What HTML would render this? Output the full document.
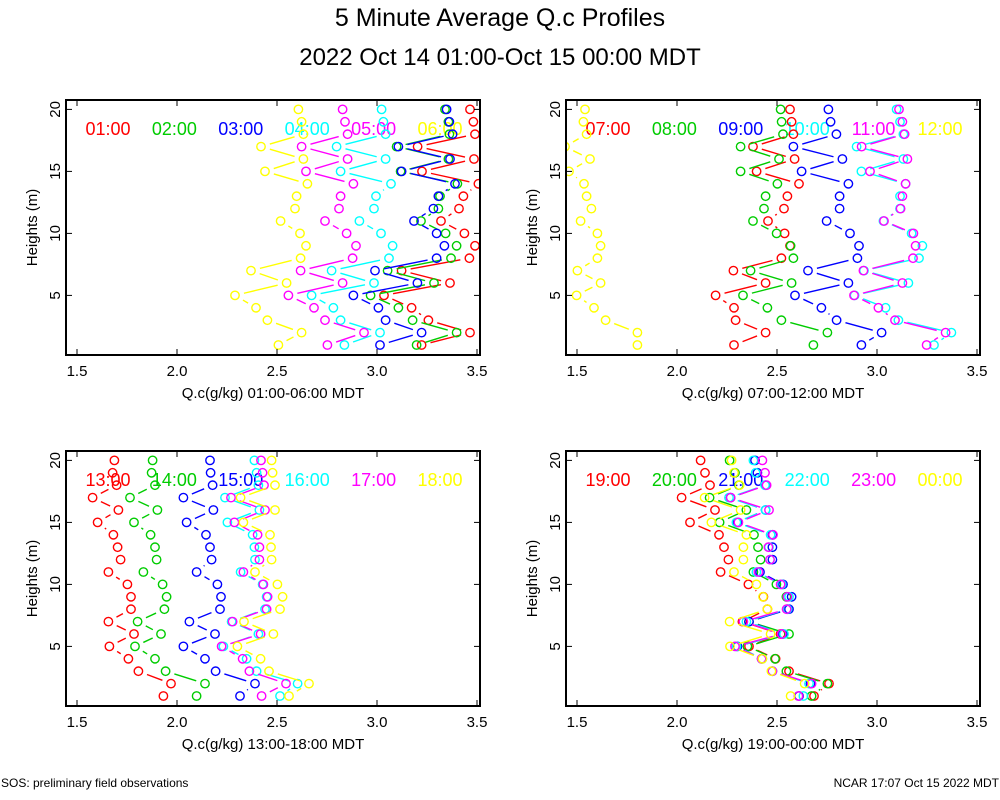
<!DOCTYPE html>
<html><head><meta charset="utf-8"><style>
body{margin:0;background:#fff;}
svg{display:block;font-family:"Liberation Sans",Arial,sans-serif;}
</style></head><body>
<svg id="chart" width="1000" height="800" viewBox="0 0 1000 800">
<rect width="1000" height="800" fill="#fff"/>
<text x="500" y="26" font-size="25" text-anchor="middle">5 Minute Average Q.c Profiles</text>
<text x="500" y="65" font-size="24" text-anchor="middle">2022 Oct 14 01:00-Oct 15 00:00 MDT</text>
<text x="1" y="787" font-size="12">SOS: preliminary field observations</text>
<text x="999" y="787" font-size="12" text-anchor="end">NCAR 17:07 Oct 15 2022 MDT</text>
</svg>
<script>
const heights=[20,19,18,17,16,15,14,13,12,11,10,9,8,7,6,5,4,3,2,1];
const colors=["#ff0000","#00cc00","#0000ff","#00ffff","#ff00ff","#ffff00"];
const xTicks=[1.5,2.0,2.5,3.0,3.5];
const xTickLabels=["1.5","2.0","2.5","3.0","3.5"];
const yTicks=[5,10,15,20];
const p1Labels=["01:00","02:00","03:00","04:00","05:00","06:00"];
const p2Labels=["07:00","08:00","09:00","10:00","11:00","12:00"];
const p3Labels=["13:00","14:00","15:00","16:00","17:00","18:00"];
const p4Labels=["19:00","20:00","21:00","22:00","23:00","00:00"];
const p1Red=[3.465,3.482,3.49,3.203,3.485,3.225,3.507,3.432,3.41,3.32,3.437,3.49,3.462,3.123,3.365,3.035,3.173,3.257,3.465,3.223];
const p1Green=[3.34,3.357,3.362,3.098,3.357,3.118,3.402,3.315,3.307,3.22,3.343,3.398,3.37,3.053,3.285,2.968,3.107,3.178,3.398,3.198];
const p1Blue=[3.348,3.362,3.378,3.107,3.365,3.123,3.39,3.307,3.282,3.185,3.298,3.337,3.298,2.99,3.202,2.882,3.007,3.043,3.223,3.015];
const p1Cyan=[3.023,3.032,3.043,2.798,3.043,2.818,3.07,2.995,2.985,2.912,3.02,3.078,3.06,2.773,2.985,2.673,2.782,2.818,3.015,2.837];
const p1Magenta=[2.828,2.84,2.853,2.623,2.853,2.645,2.882,2.818,2.81,2.74,2.848,2.895,2.878,2.618,2.828,2.557,2.685,2.74,2.935,2.752];
const p1Yellow=[2.607,2.623,2.632,2.42,2.632,2.44,2.652,2.598,2.59,2.518,2.615,2.645,2.618,2.37,2.548,2.29,2.395,2.452,2.623,2.507];
const p2Red=[2.565,2.573,2.582,2.38,2.588,2.398,2.61,2.552,2.535,2.455,2.538,2.565,2.522,2.282,2.443,2.193,2.285,2.293,2.443,2.285];
const p2Green=[2.518,2.523,2.53,2.318,2.51,2.318,2.502,2.443,2.435,2.38,2.498,2.568,2.582,2.368,2.573,2.33,2.452,2.522,2.752,2.682];
const p2Blue=[2.757,2.768,2.797,2.582,2.827,2.623,2.857,2.813,2.813,2.748,2.865,2.91,2.902,2.655,2.857,2.59,2.722,2.798,3.023,2.922];
const p2Cyan=[3.098,3.115,3.132,2.898,3.132,2.922,3.143,3.115,3.115,3.032,3.173,3.227,3.21,2.935,3.157,2.888,3.043,3.107,3.372,3.285];
const p2Magenta=[3.11,3.127,3.138,2.923,3.152,2.965,3.143,3.127,3.118,3.035,3.182,3.193,3.18,2.932,3.127,2.885,3.007,3.09,3.343,3.248];
const p2Yellow=[1.54,1.532,1.548,1.44,1.565,1.46,1.535,1.548,1.572,1.518,1.602,1.618,1.602,1.502,1.618,1.498,1.585,1.643,1.802,1.802];
const p3Red=[1.687,1.678,1.698,1.578,1.707,1.603,1.682,1.703,1.718,1.657,1.752,1.77,1.77,1.657,1.785,1.662,1.757,1.807,1.97,1.932];
const p3Green=[1.878,1.873,1.89,1.765,1.902,1.785,1.868,1.89,1.898,1.832,1.928,1.948,1.937,1.803,1.92,1.79,1.89,1.943,2.14,2.098];
const p3Blue=[2.165,2.168,2.178,2.032,2.182,2.048,2.145,2.165,2.173,2.098,2.202,2.22,2.215,2.062,2.19,2.032,2.14,2.193,2.39,2.315];
const p3Cyan=[2.387,2.398,2.407,2.24,2.412,2.252,2.378,2.387,2.39,2.318,2.428,2.448,2.44,2.273,2.407,2.232,2.348,2.398,2.603,2.515];
const p3Magenta=[2.42,2.428,2.435,2.27,2.44,2.287,2.403,2.412,2.412,2.332,2.432,2.453,2.448,2.278,2.418,2.223,2.328,2.362,2.545,2.423];
const p3Yellow=[2.473,2.478,2.49,2.318,2.49,2.332,2.465,2.47,2.473,2.39,2.502,2.528,2.515,2.335,2.482,2.302,2.418,2.46,2.66,2.56];
const p4Red=[2.118,2.14,2.165,2.023,2.19,2.065,2.21,2.235,2.257,2.218,2.357,2.432,2.452,2.327,2.518,2.36,2.493,2.56,2.76,2.685];
const p4Green=[2.263,2.29,2.31,2.163,2.347,2.213,2.385,2.405,2.418,2.382,2.497,2.547,2.552,2.36,2.56,2.352,2.49,2.547,2.752,2.673];
const p4Blue=[2.39,2.402,2.443,2.268,2.443,2.302,2.477,2.477,2.477,2.415,2.53,2.573,2.56,2.36,2.53,2.302,2.423,2.477,2.668,2.61];
const p4Cyan=[2.382,2.393,2.44,2.26,2.443,2.297,2.468,2.46,2.465,2.397,2.523,2.56,2.552,2.347,2.535,2.297,2.427,2.477,2.66,2.632];
const p4Magenta=[2.427,2.44,2.448,2.268,2.46,2.307,2.48,2.457,2.465,2.407,2.518,2.552,2.548,2.332,2.523,2.29,2.423,2.477,2.673,2.607];
const p4Yellow=[2.273,2.285,2.313,2.138,2.318,2.172,2.347,2.332,2.332,2.285,2.397,2.43,2.452,2.263,2.468,2.265,2.427,2.472,2.638,2.568];

const NS="http://www.w3.org/2000/svg";
const svg=document.getElementById('chart');
function mk(tag,attrs,parent){const e=document.createElementNS(NS,tag);for(const k in attrs)e.setAttribute(k,attrs[k]);(parent||svg).appendChild(e);return e;}

const panels=[
 {left:66,top:100,series:[p1Red,p1Green,p1Blue,p1Cyan,p1Magenta,p1Yellow],labels:p1Labels,xlabel:"Q.c(g/kg) 01:00-06:00 MDT",id:"panel-1"},
 {left:566,top:100,series:[p2Red,p2Green,p2Blue,p2Cyan,p2Magenta,p2Yellow],labels:p2Labels,xlabel:"Q.c(g/kg) 07:00-12:00 MDT",id:"panel-2"},
 {left:66,top:451,series:[p3Red,p3Green,p3Blue,p3Cyan,p3Magenta,p3Yellow],labels:p3Labels,xlabel:"Q.c(g/kg) 13:00-18:00 MDT",id:"panel-3"},
 {left:566,top:451,series:[p4Red,p4Green,p4Blue,p4Cyan,p4Magenta,p4Yellow],labels:p4Labels,xlabel:"Q.c(g/kg) 19:00-00:00 MDT",id:"panel-4"}
];
const W=414,H=255;
panels.forEach((p,pi)=>{
 const g=mk('g',{});
 
 
 const xs=v=>p.left+11+(v-1.5)*200;
 const ys=h=>p.top+245-(h-1)*12.4;
 const cid='clip'+pi;
 const cp=mk('clipPath',{id:cid},g);
 mk('rect',{x:p.left,y:p.top,width:W,height:H},cp);
 p.labels.forEach((t,i)=>{
  const tx=mk('text',{x:p.left+42+i*66.4,y:p.top+35,'font-size':18,'text-anchor':'middle',fill:colors[i]},g);
  tx.textContent=t;
  
  
 });
 const plot=mk('g',{'clip-path':'url(#'+cid+')'},g);
 p.series.forEach((vals,si)=>{
  const sg=mk('g',{stroke:colors[si],fill:'none','stroke-width':1.4},plot);
  
  
  const r=4.2;
  for(let i=0;i<vals.length-1;i++){
   const x1=xs(vals[i]),y1=ys(heights[i]),x2=xs(vals[i+1]),y2=ys(heights[i+1]);
   const dx=x2-x1,dy=y2-y1,d=Math.hypot(dx,dy),gap=r+5;
   if(d>2*gap+1){
    const ln=mk('line',{x1:x1+dx/d*gap,y1:y1+dy/d*gap,x2:x2-dx/d*gap,y2:y2-dy/d*gap},sg);
    
    
   }
  }
  vals.forEach((v,i)=>{
   const c=mk('circle',{cx:xs(v),cy:ys(heights[i]),r:r},sg);
   
   
  });
 });
 const fr=mk('rect',{x:p.left,y:p.top,width:W,height:H,fill:'none',stroke:'#000','stroke-width':2},g);
 
 
 xTicks.forEach((v,i)=>{
  const x=xs(v);
  mk('line',{x1:x,y1:p.top+H,x2:x,y2:p.top+H-6,stroke:'#000','stroke-width':1},g);
  mk('line',{x1:x,y1:p.top,x2:x,y2:p.top+6,stroke:'#000','stroke-width':1},g);
  const t=mk('text',{x:x,y:p.top+H+21,'font-size':15,'text-anchor':'middle'},g);
  t.textContent=xTickLabels[i];
  
  
 });
 yTicks.forEach(h=>{
  const y=ys(h);
  mk('line',{x1:p.left,y1:y,x2:p.left+6,y2:y,stroke:'#000','stroke-width':1},g);
  mk('line',{x1:p.left+W,y1:y,x2:p.left+W-6,y2:y,stroke:'#000','stroke-width':1},g);
  const t=mk('text',{x:0,y:0,'font-size':15,'text-anchor':'middle',transform:'translate('+(p.left-6)+','+y+') rotate(-90)'},g);
  t.textContent=String(h);
  
  
 });
 const xl=mk('text',{x:p.left+W/2,y:p.top+H+43,'font-size':15,'text-anchor':'middle'},g);
 xl.textContent=p.xlabel;
 
 
 const yl=mk('text',{x:0,y:0,'font-size':15,'text-anchor':'middle',transform:'translate('+(p.left-29)+','+(p.top+H/2)+') rotate(-90)'},g);
 yl.textContent="Heights (m)";
 
 
});
</script>
</body></html>
